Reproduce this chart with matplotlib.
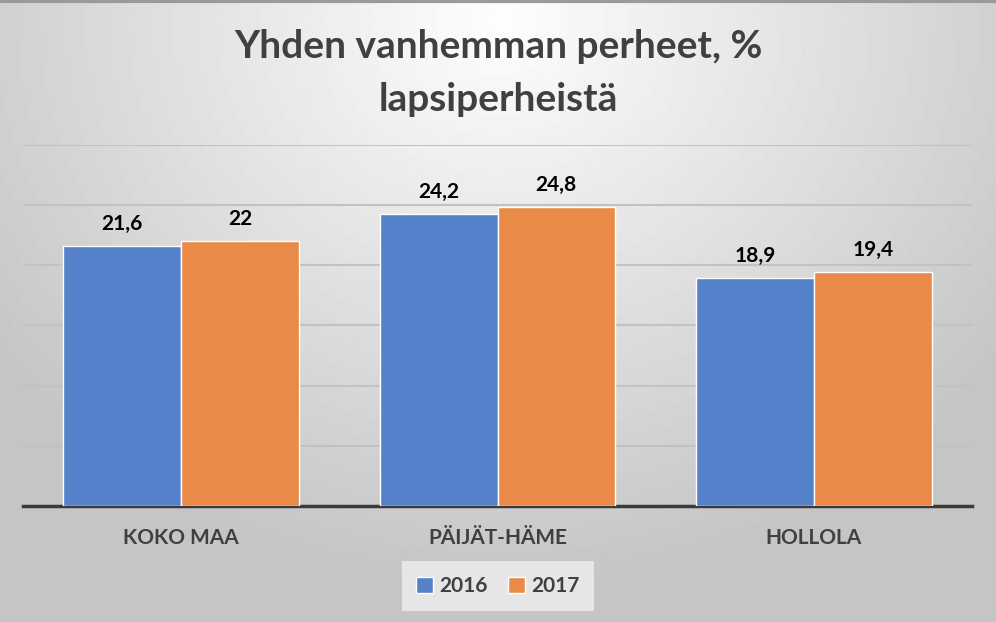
import numpy as np
import matplotlib.pyplot as plt

categories = ['KOKO MAA', 'PÄIJÄT-HÄME', 'HOLLOLA']
years = ['2016', '2017']
values_2016 = [21.6, 24.2, 18.9]
values_2017 = [22.0, 24.8, 19.4]
labels_2016 = ['21,6', '24,2', '18,9']
labels_2017 = ['22', '24,8', '19,4']

plt.rcParams['font.family'] = ['Lato', 'DejaVu Sans']

fig = plt.figure(figsize=(9.96, 6.22), dpi=100)

# radial gray background
bg = fig.add_axes([0, 0, 1, 1])
yy, xx = np.mgrid[0:622, 0:996]
r = np.sqrt(((xx - 498) / 620.0) ** 2 + ((yy - 20) / 560.0) ** 2)
shade = np.clip(0.995 - 0.22 * r, 0.77, 1.0)
bg.imshow(shade, cmap='gray', vmin=0, vmax=1, aspect='auto', extent=[0, 1, 0, 1])
bg.plot([0, 1], [0.998, 0.998], color='#9a9a9a', lw=3, transform=bg.transAxes)
bg.set_axis_off()

ax = fig.add_axes([0.023, 0.1865, 0.953, 0.581])
ax.patch.set_alpha(0)

x = np.arange(len(categories))
w = 0.372
b1 = ax.bar(x - w / 2, values_2016, w, color='#5580CA', edgecolor='white', linewidth=1, label=years[0], zorder=3)
b2 = ax.bar(x + w / 2, values_2017, w, color='#EA8A48', edgecolor='white', linewidth=1, label=years[1], zorder=3)

for bars, labs in ((b1, labels_2016), (b2, labels_2017)):
    for rect, lab in zip(bars, labs):
        ax.text(rect.get_x() + rect.get_width() / 2, rect.get_height() + 1.0, lab,
                ha='center', va='bottom', fontsize=15, fontweight='bold', color='black')

ax.set_xlim(-0.5, 2.5)
ax.set_ylim(0, 30)
ax.set_yticks([5, 10, 15, 20, 25, 30])
ax.yaxis.grid(True, color='#c2c2c2', linewidth=1.5, zorder=0)
ax.tick_params(axis='y', length=0, labelleft=False)
ax.set_xticks(x)
ax.set_xticklabels(categories, fontsize=15, fontweight='bold', color='#404040')
ax.tick_params(axis='x', length=0, pad=16)
for s in ['top', 'right', 'left']:
    ax.spines[s].set_visible(False)
ax.spines['bottom'].set_color('#3a3a3a')
ax.spines['bottom'].set_linewidth(2.5)

fig.text(0.5, 0.925, 'Yhden vanhemman perheet, %', ha='center', va='center',
         fontsize=28, fontweight='bold', color='#404040')
fig.text(0.5, 0.84, 'lapsiperheistä', ha='center', va='center',
         fontsize=28, fontweight='bold', color='#404040')

leg = fig.legend(handles=[b1, b2], loc='center', bbox_to_anchor=(0.5, 0.058), ncol=2,
                 frameon=True, fontsize=15, handlelength=0.8, handleheight=0.8,
                 handletextpad=0.3, columnspacing=1.0, borderpad=0.5)
leg.get_frame().set_facecolor('#e6e6e6')
leg.get_frame().set_edgecolor('none')
leg.get_frame().set_alpha(1)
leg.get_frame().set_boxstyle('square', pad=0.2)
for t in leg.get_texts():
    t.set_color('#404040')
    t.set_fontweight('bold')

fig.savefig('out.png', dpi=100)
